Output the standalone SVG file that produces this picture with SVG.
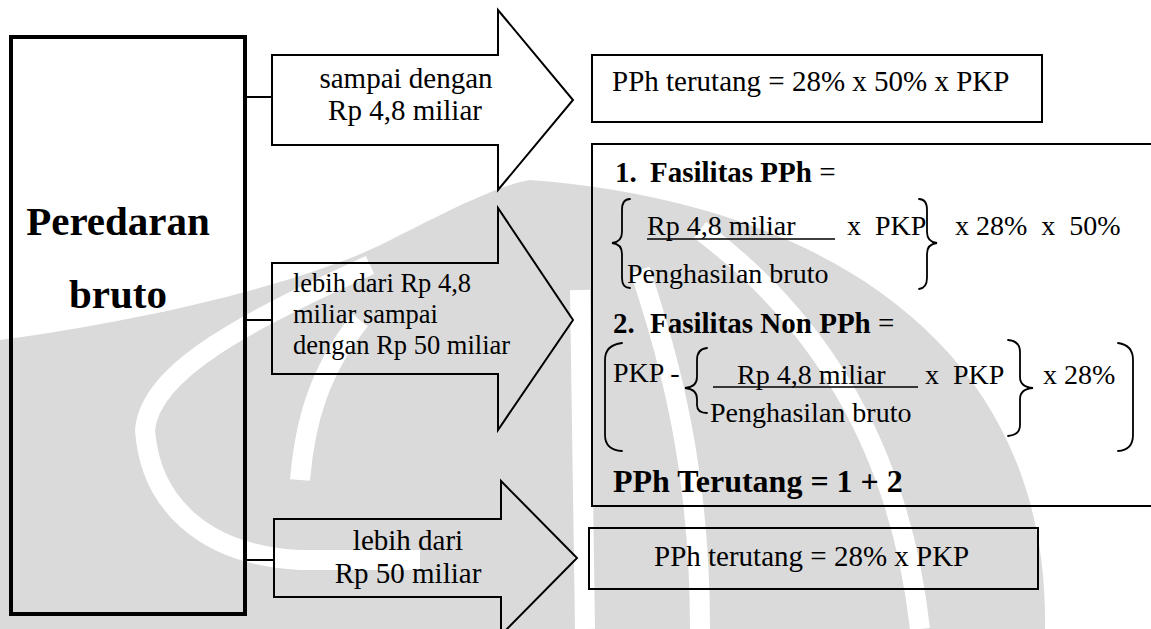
<svg xmlns="http://www.w3.org/2000/svg" width="1151" height="629" viewBox="0 0 1151 629">
<style>
.t{font-family:"Liberation Serif","Times New Roman",serif;fill:#000}
.n{font-size:29px}
.s{font-size:26.5px}
.f{font-size:28px}
.b{font-weight:bold}
.ln{fill:none;stroke:#000;stroke-width:2}
.br{fill:none;stroke:#000;stroke-width:1.8;stroke-linecap:round}
.wm{fill:#dadada}
.ws{fill:none;stroke:#fff;stroke-width:20}
</style>
<g id="watermark">
<path class="wm" d="M0,629 L0,340 C150,320 320,280 400,235 C460,205 500,185 530,180 C800,200 1050,330 1045,629 Z"/>
<path class="ws" d="M370,265 C250,320 150,370 145,430 C150,500 200,555 300,560 L420,560"/>
<path class="ws" d="M300,480 C305,420 320,370 360,320"/>
<path class="ws" d="M580,290 L585,629"/>
<path class="ws" d="M700,629 C700,470 670,360 640,270"/>
<path class="ws" d="M920,629 C900,450 820,320 700,230"/>
</g>
<g id="connectors">
<line class="ln" x1="245" y1="97" x2="272" y2="97"/>
<line class="ln" x1="245" y1="320" x2="272" y2="320"/>
<line class="ln" x1="245" y1="560" x2="274" y2="560"/>
</g>
<g id="peredaran">
<rect x="11" y="37" width="234" height="577" fill="none" stroke="#000" stroke-width="4"/>
<text class="t b" x="118" y="235" font-size="41" text-anchor="middle">Peredaran</text>
<text class="t b" x="118" y="308" font-size="41" text-anchor="middle">bruto</text>
</g>
<g id="arrow1">
<path class="ln" d="M272,55 H498 V10 L573,100 L498,190 V145 H272 Z"/>
<text class="t n" x="406" y="88" text-anchor="middle">sampai dengan</text>
<text class="t n" x="405" y="120" text-anchor="middle">Rp 4,8 miliar</text>
</g>
<g id="arrow2">
<path class="ln" d="M272,263 H498 V208 L573,320 L498,430 V374 H272 Z"/>
<text class="t s" x="293" y="292">lebih dari Rp 4,8</text>
<text class="t s" x="293" y="323">miliar sampai</text>
<text class="t s" x="293" y="354">dengan Rp 50 miliar</text>
</g>
<g id="arrow3">
<path class="ln" d="M274,519 H501 V481 L577,558 L501,635 V597 H274 Z"/>
<text class="t n" x="408" y="550" text-anchor="middle">lebih dari</text>
<text class="t n" x="408" y="583" text-anchor="middle">Rp 50 miliar</text>
</g>
<g id="box1">
<rect class="ln" x="592" y="55" width="450" height="67"/>
<text class="t n" x="612" y="91">PPh terutang = 28% x 50% x PKP</text>
</g>
<g id="box2">
<path class="ln" d="M1151,144 H592 V506 H1151"/>
<text class="t n" y="182"><tspan class="b" x="615">1.</tspan><tspan class="b" x="650">Fasilitas PPh</tspan> =</text>
<path class="br" d="M630,199 Q622,199 622,210 L622,232 Q622,242 612,243 Q622,244 622,254 L622,278 Q622,288 630,288"/>
<text class="t f" x="647" y="235">Rp 4,8 miliar</text>
<line x1="647" y1="239" x2="835" y2="239" stroke="#000" stroke-width="1.6"/>
<text class="t f" x="847" y="235" xml:space="preserve">x  PKP</text>
<path class="br" d="M919,199 Q927,199 927,210 L927,232 Q927,242 937,243 Q927,244 927,254 L927,278 Q927,288 919,289"/>
<text class="t f" x="955" y="235" xml:space="preserve">x 28%  x  50%</text>
<text class="t f" x="627" y="283">Penghasilan bruto</text>
<text class="t n" y="333"><tspan class="b" x="613">2.</tspan><tspan class="b" x="650">Fasilitas Non PPh</tspan> =</text>
<path class="br" d="M622,343 Q605,345 605,360 L605,435 Q605,450 622,451"/>
<text class="t f" x="613" y="382">PKP -</text>
<path class="br" d="M707,348 Q697,349 697,360 L697,377 Q697,387 685,388 Q697,389 697,399 L697,405 Q697,413 707,413"/>
<line x1="713" y1="387" x2="918" y2="387" stroke="#000" stroke-width="1.6"/>
<text class="t f" x="737" y="384">Rp 4,8 miliar</text>
<text class="t f" x="925" y="384" xml:space="preserve">x  PKP</text>
<path class="br" d="M1008,340 Q1020,341 1020,352 L1020,377 Q1020,387 1033,388 Q1020,389 1020,399 L1020,425 Q1020,435 1008,436"/>
<text class="t f" x="1043" y="384">x 28%</text>
<path class="br" d="M1118,343 Q1133,345 1133,360 L1133,435 Q1133,450 1118,451"/>
<text class="t f" x="710" y="422">Penghasilan bruto</text>
<text class="t b" x="613" y="492" font-size="32">PPh Terutang = 1 + 2</text>
</g>
<g id="box3">
<rect class="ln" x="589" y="528" width="449" height="61"/>
<text class="t n" x="654" y="566">PPh terutang = 28% x PKP</text>
</g>
</svg>
